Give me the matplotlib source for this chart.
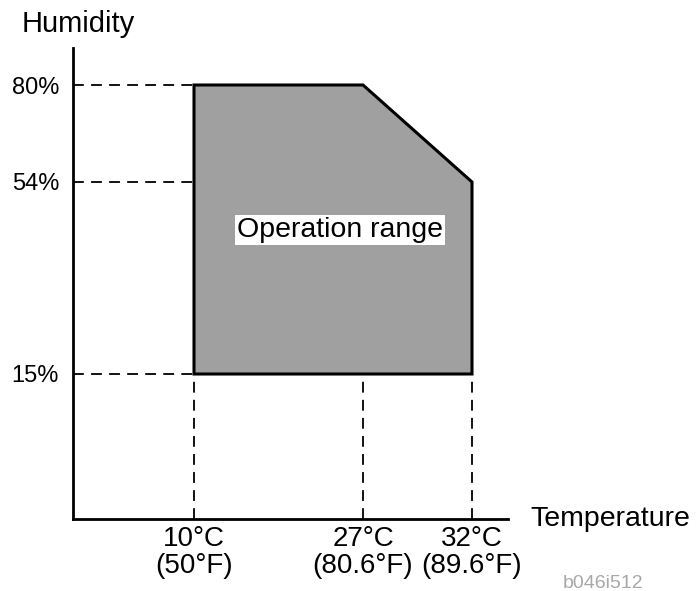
import numpy as np
import matplotlib
matplotlib.use("Agg")
import matplotlib.pyplot as plt

plt.rcParams['font.family'] = ['Liberation Sans', 'DejaVu Sans']

# 运行范围数据 (温度 °C / 湿度 %)
range_temp = [10, 10, 27, 32, 32]
range_humid = [15, 80, 80, 54, 15]

temp_ticks = [10, 27, 32]
temp_labels = ['10°C\n(50°F)', '27°C\n(80.6°F)', '32°C\n(89.6°F)']
humid_ticks = [15, 54, 80]
humid_labels = ['15%', '54%', '80%']

# 示意图的刻度不是线性的 -> 分段线性比例尺
x_anchor_val = [0, 10, 27, 32, 35]
x_anchor_pos = [0, 121, 290, 399, 435]
y_anchor_val = [0, 15, 54, 80, 90]
y_anchor_pos = [0, 145, 337, 434, 471]


def fx(v):
    return np.interp(v, x_anchor_val, x_anchor_pos)


def fx_inv(p):
    return np.interp(p, x_anchor_pos, x_anchor_val)


def fy(v):
    return np.interp(v, y_anchor_val, y_anchor_pos)


def fy_inv(p):
    return np.interp(p, y_anchor_pos, y_anchor_val)


W, H = 697, 591
fig = plt.figure(figsize=(W / 100, H / 100), dpi=100)
ax = fig.add_axes([73 / W, 72 / H, 435 / W, 471 / H])

ax.set_xscale('function', functions=(fx, fx_inv))
ax.set_yscale('function', functions=(fy, fy_inv))
ax.set_xlim(0, 35)
ax.set_ylim(0, 90)

# 灰色区域
ax.fill(range_temp, range_humid, facecolor='#a0a0a0', edgecolor='black',
        linewidth=2.2, joinstyle='miter', zorder=3)

# 虚线
dash = dict(color='black', linewidth=1.3, dashes=(6, 4), zorder=2)
for h in humid_ticks:
    ax.plot([0, 10], [h, h], **dash)
for t in temp_ticks:
    ax.plot([t, t], [0, 15], **dash)

for s in ['top', 'right']:
    ax.spines[s].set_visible(False)
for s in ['left', 'bottom']:
    ax.spines[s].set_linewidth(2.0)

ax.set_xticks(temp_ticks)
ax.set_xticklabels(temp_labels, fontsize=20, linespacing=1.05)
ax.set_yticks(humid_ticks)
ax.set_yticklabels(humid_labels, fontsize=17)
ax.tick_params(axis='x', length=0, pad=5)
ax.tick_params(axis='y', length=0, pad=10)
ax.minorticks_off()

fig.text(22 / W, 1 - 24 / H, 'Humidity', fontsize=21, va='center', ha='left')
fig.text(530 / W, 1 - 519 / H, 'Temperature', fontsize=20.5, va='center', ha='left')
fig.text(237 / W, 1 - 230 / H, 'Operation range', fontsize=20.5, va='center', ha='left',
         bbox=dict(facecolor='white', edgecolor='none', pad=1.5), zorder=5)
fig.text(563 / W, 1 - 583 / H, 'b046i512', fontsize=14, color='#a8a8a8',
         va='center', ha='left')

plt.savefig('out.png', dpi=100)
